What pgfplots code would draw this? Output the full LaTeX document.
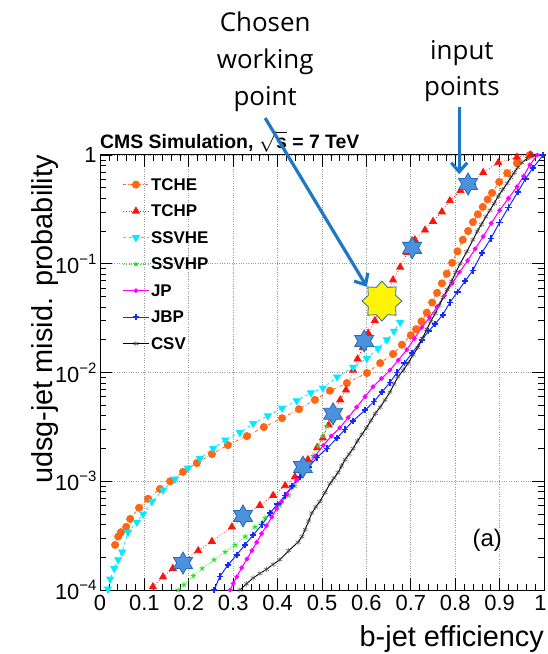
\documentclass[border=0pt]{standalone}
\usepackage{fontspec}
\setmainfont{Liberation Sans}
\newfontfamily\annfont{Open Sans}
\usepackage{pgfplots}
\pgfplotsset{compat=1.18}
\usetikzlibrary{arrows.meta}

\definecolor{cOrange}{RGB}{255,102,20}
\definecolor{cRed}{RGB}{255,20,10}
\definecolor{cCyan}{RGB}{0,235,255}
\definecolor{cGreen}{RGB}{30,230,30}
\definecolor{cMagenta}{RGB}{255,0,255}
\definecolor{cBlue}{RGB}{20,40,255}
\definecolor{arrowblue}{RGB}{30,120,195}
\definecolor{starfill}{RGB}{75,145,220}
\definecolor{starline}{RGB}{40,105,185}
\definecolor{staryellow}{RGB}{255,245,0}

\pgfdeclareplotmark{hexstar}{%
  \pgfpathmoveto{\pgfpointpolar{90}{\pgfplotmarksize}}%
  \pgfpathlineto{\pgfpointpolar{120}{0.577\pgfplotmarksize}}%
  \pgfpathlineto{\pgfpointpolar{150}{\pgfplotmarksize}}%
  \pgfpathlineto{\pgfpointpolar{180}{0.577\pgfplotmarksize}}%
  \pgfpathlineto{\pgfpointpolar{210}{\pgfplotmarksize}}%
  \pgfpathlineto{\pgfpointpolar{240}{0.577\pgfplotmarksize}}%
  \pgfpathlineto{\pgfpointpolar{270}{\pgfplotmarksize}}%
  \pgfpathlineto{\pgfpointpolar{300}{0.577\pgfplotmarksize}}%
  \pgfpathlineto{\pgfpointpolar{330}{\pgfplotmarksize}}%
  \pgfpathlineto{\pgfpointpolar{0}{0.577\pgfplotmarksize}}%
  \pgfpathlineto{\pgfpointpolar{30}{\pgfplotmarksize}}%
  \pgfpathlineto{\pgfpointpolar{60}{0.577\pgfplotmarksize}}%
  \pgfpathclose
  \pgfusepathqfillstroke
}
\pgfdeclareplotmark{octstar}{%
  \pgfpathmoveto{\pgfpointpolar{90}{\pgfplotmarksize}}%
  \pgfpathlineto{\pgfpointpolar{112.5}{0.74\pgfplotmarksize}}%
  \pgfpathlineto{\pgfpointpolar{135}{\pgfplotmarksize}}%
  \pgfpathlineto{\pgfpointpolar{157.5}{0.74\pgfplotmarksize}}%
  \pgfpathlineto{\pgfpointpolar{180}{\pgfplotmarksize}}%
  \pgfpathlineto{\pgfpointpolar{202.5}{0.74\pgfplotmarksize}}%
  \pgfpathlineto{\pgfpointpolar{225}{\pgfplotmarksize}}%
  \pgfpathlineto{\pgfpointpolar{247.5}{0.74\pgfplotmarksize}}%
  \pgfpathlineto{\pgfpointpolar{270}{\pgfplotmarksize}}%
  \pgfpathlineto{\pgfpointpolar{292.5}{0.74\pgfplotmarksize}}%
  \pgfpathlineto{\pgfpointpolar{315}{\pgfplotmarksize}}%
  \pgfpathlineto{\pgfpointpolar{337.5}{0.74\pgfplotmarksize}}%
  \pgfpathlineto{\pgfpointpolar{0}{\pgfplotmarksize}}%
  \pgfpathlineto{\pgfpointpolar{22.5}{0.74\pgfplotmarksize}}%
  \pgfpathlineto{\pgfpointpolar{45}{\pgfplotmarksize}}%
  \pgfpathlineto{\pgfpointpolar{67.5}{0.74\pgfplotmarksize}}%
  \pgfpathclose
  \pgfusepathqfillstroke
}

\newcommand{\tenp}[1]{10\raisebox{0.42em}{\fontsize{15}{15}\selectfont #1}}

\begin{document}
\begin{tikzpicture}[x=1bp,y=1bp]
\useasboundingbox (0,0) rectangle (548,654);
\begin{axis}[
  at={(100bp,64bp)}, anchor=south west,
  width=444bp, height=435bp, scale only axis,
  xmin=0, xmax=1, ymin=1e-4, ymax=1, ymode=log,
  clip=false,
  xtick={0,0.1,0.2,0.3,0.4,0.5,0.6,0.7,0.8,0.9,1},
  xticklabels={0,0.1,0.2,0.3,0.4,0.5,0.6,0.7,0.8,0.9,\makebox[5bp][r]{1}},
  minor x tick num=4,
  ytick={1e-4,1e-3,1e-2,1e-1,1},
  yticklabels={\tenp{−4},\tenp{−3},\tenp{−2},\tenp{−1},1},
  minor ytick={2e-4,3e-4,4e-4,5e-4,6e-4,7e-4,8e-4,9e-4,2e-3,3e-3,4e-3,5e-3,6e-3,7e-3,8e-3,9e-3,2e-2,3e-2,4e-2,5e-2,6e-2,7e-2,8e-2,9e-2,0.2,0.3,0.4,0.5,0.6,0.7,0.8,0.9},
  major tick length=12bp, minor tick length=6bp,
  every tick/.style={black, line width=0.7bp},
  axis line style={line width=1bp},
  grid=major, grid style={dotted, gray!80, line width=0.7bp},
  ticklabel style={font=\fontsize{22}{22}\selectfont},
  xticklabel style={yshift=-2bp},
  xlabel={b-jet efficiency},
  xlabel style={at={(axis description cs:1,-0.131)}, anchor=base east, inner sep=0pt, font=\fontsize{29}{29}\selectfont},
  ylabel={udsg-jet misid. probability},
  ylabel style={at={(axis description cs:-0.1059,1)}, anchor=base east, inner sep=0pt, font=\fontsize{29}{29}\selectfont},
  legend style={at={(axis description cs:0.05,0.949)}, anchor=north west, draw=none, fill=none, inner sep=0pt,
    font=\bfseries\fontsize{17}{17}\selectfont, row sep=12bp,
    nodes={inner sep=1.5bp, text height=11.5bp, text depth=0bp}},
  legend cell align=left,
  legend image code/.code={\draw[mark repeat=2,mark phase=2,#1] plot coordinates {(0bp,0bp) (13bp,0bp) (26bp,0bp)};},
]
% TCHE
\addplot[color=cOrange, dash dot, line width=0.8bp, mark=*, mark size=3.6bp, mark options={solid}] coordinates {
(0.034,2.6e-4) (0.041,3.1e-4) (0.047,3.4e-4) (0.059,3.8e-4) (0.068,4.5e-4) (0.088,5.7e-4) (0.108,6.9e-4)
(0.135,8.5e-4) (0.158,1.0e-3) (0.187,1.22e-3) (0.218,1.47e-3) (0.252,1.78e-3) (0.288,2.15e-3) (0.331,2.6e-3)
(0.369,3.15e-3) (0.410,3.8e-3) (0.448,4.6e-3) (0.484,5.6e-3) (0.518,6.8e-3) (0.556,8.0e-3) (0.601,9.9e-3)
(0.631,1.22e-2) (0.660,1.48e-2) (0.680,1.8e-2) (0.700,2.2e-2) (0.712,2.5e-2) (0.724,2.95e-2) (0.736,3.55e-2)
(0.748,4.4e-2) (0.759,5.4e-2) (0.770,6.6e-2) (0.781,8.1e-2) (0.793,0.102) (0.805,0.13) (0.817,0.166)
(0.829,0.2) (0.840,0.242) (0.851,0.285) (0.862,0.333) (0.873,0.39) (0.883,0.448) (0.899,0.565) (0.917,0.682)
(0.939,0.843) (0.968,1.0)};
\addlegendentry{TCHE}
% TCHP
\addplot[color=cRed, dotted, line width=0.8bp, mark=triangle*, mark size=4bp, mark options={solid}] coordinates {
(0.119,1.07e-4) (0.142,1.32e-4) (0.164,1.58e-4) (0.191,1.9e-4) (0.221,2.3e-4) (0.252,2.8e-4) (0.297,3.8e-4)
(0.327,4.9e-4) (0.360,6.0e-4) (0.390,7.4e-4) (0.417,9.1e-4) (0.439,1.1e-3) (0.455,1.3e-3) (0.468,1.58e-3)
(0.489,2.04e-3) (0.502,2.5e-3) (0.515,3.3e-3) (0.528,4.4e-3) (0.541,5.6e-3) (0.554,6.9e-3) (0.570,1.05e-2)
(0.580,1.33e-2) (0.592,1.7e-2) (0.604,2.3e-2) (0.619,3.0e-2) (0.633,4.0e-2) (0.647,5.4e-2) (0.660,7.1e-2)
(0.676,9.3e-2) (0.692,0.127) (0.709,0.166) (0.732,0.204) (0.750,0.245) (0.770,0.30) (0.788,0.38) (0.812,0.47)
(0.838,0.56) (0.863,0.69) (0.897,0.85) (0.939,0.955) (0.970,1.0)};
\addlegendentry{TCHP}
% SSVHE
\addplot[color=cCyan, dashed, line width=0.8bp, mark=triangle*, mark size=4bp, mark options={solid, rotate=180}] coordinates {
(0.018,1.02e-4) (0.023,1.26e-4) (0.032,1.58e-4) (0.041,1.9e-4) (0.050,2.24e-4) (0.063,3.4e-4) (0.083,4.2e-4)
(0.097,5.0e-4) (0.117,6.5e-4) (0.142,8.3e-4) (0.169,1.05e-3) (0.198,1.32e-3) (0.225,1.62e-3) (0.255,2.0e-3)
(0.282,2.4e-3) (0.315,2.8e-3) (0.345,3.4e-3) (0.378,4.0e-3) (0.410,4.7e-3) (0.443,5.5e-3) (0.475,6.5e-3)
(0.502,7.2e-3) (0.534,9.1e-3) (0.570,1.12e-2) (0.601,1.35e-2) (0.626,1.66e-2) (0.646,2.0e-2) (0.662,2.4e-2)
(0.676,2.9e-2)};
\addlegendentry{SSVHE}
% SSVHP
\addplot[color=cGreen, dotted, line width=0.8bp, mark=star, mark size=2.6bp, mark options={solid, line width=1bp}] coordinates {
(0.176,1.0e-4) (0.189,1.12e-4) (0.210,1.35e-4) (0.230,1.58e-4) (0.257,1.9e-4) (0.282,2.24e-4) (0.304,2.6e-4)
(0.327,3.1e-4) (0.349,3.8e-4) (0.372,4.6e-4) (0.405,6.0e-4) (0.425,7.4e-4) (0.439,9.1e-4) (0.455,1.15e-3)
(0.468,1.4e-3) (0.480,1.7e-3) (0.492,2.1e-3) (0.502,2.6e-3) (0.511,3.2e-3) (0.518,3.7e-3) (0.522,4.2e-3)};
\addlegendentry{SSVHP}
% JP
\addplot[color=cMagenta, solid, line width=1.1bp, mark=*, mark size=1.8bp] coordinates {
(0.293,1.0e-4) (0.300,1.15e-4) (0.308,1.32e-4) (0.319,1.6e-4) (0.331,1.93e-4) (0.342,2.3e-4) (0.353,2.75e-4)
(0.364,3.3e-4) (0.375,3.9e-4) (0.387,4.7e-4) (0.398,5.6e-4) (0.409,6.5e-4) (0.420,7.6e-4) (0.432,8.8e-4)
(0.443,1.02e-3) (0.455,1.18e-3) (0.466,1.35e-3) (0.484,1.7e-3) (0.503,2.14e-3) (0.521,2.6e-3) (0.540,3.1e-3)
(0.559,3.85e-3) (0.578,4.8e-3) (0.597,6.0e-3) (0.615,7.4e-3) (0.634,8.8e-3) (0.653,1.05e-2) (0.672,1.3e-2)
(0.691,1.62e-2) (0.708,2.05e-2) (0.725,2.6e-2) (0.742,3.2e-2) (0.759,4.0e-2) (0.776,5.1e-2) (0.793,6.6e-2)
(0.810,8.4e-2) (0.828,0.107) (0.845,0.137) (0.863,0.178) (0.881,0.235) (0.900,0.31) (0.920,0.40) (0.939,0.51)
(0.954,0.64) (0.968,0.81) (0.985,1.0)};
\addlegendentry{JP}
% JBP
\addplot[color=cBlue, solid, line width=1bp, mark=+, mark size=3.2bp, mark options={line width=1.6bp}] coordinates {
(0.257,1.0e-4) (0.270,1.33e-4) (0.288,1.7e-4) (0.308,2.1e-4) (0.326,2.6e-4) (0.345,3.2e-4) (0.365,4.0e-4)
(0.383,5.1e-4) (0.400,6.2e-4) (0.417,7.4e-4) (0.433,9.1e-4) (0.450,1.1e-3) (0.470,1.35e-3) (0.489,1.66e-3)
(0.511,2.0e-3) (0.534,2.5e-3) (0.552,3.0e-3) (0.570,3.6e-3) (0.597,4.5e-3) (0.617,5.4e-3) (0.635,6.6e-3)
(0.653,8.1e-3) (0.669,1.0e-2) (0.686,1.23e-2) (0.703,1.51e-2) (0.725,2.0e-2) (0.740,2.4e-2) (0.755,2.8e-2)
(0.772,3.4e-2) (0.788,4.4e-2) (0.805,5.5e-2) (0.822,6.9e-2) (0.840,8.7e-2) (0.860,0.126) (0.880,0.17)
(0.900,0.24) (0.920,0.33) (0.941,0.457) (0.958,0.6) (0.975,0.76) (0.998,1.0)};
\addlegendentry{JBP}
% CSV
\addplot[color=black, solid, line width=0.9bp, mark=asterisk, mark size=2.8bp, mark options={gray!60!black, line width=0.5bp}] coordinates {
(0.315,1.0e-4) (0.330,1.14e-4) (0.345,1.29e-4) (0.360,1.42e-4) (0.375,1.55e-4) (0.390,1.72e-4) (0.405,1.9e-4)
(0.425,2.3e-4) (0.446,2.75e-4) (0.455,3.1e-4) (0.462,3.6e-4) (0.470,4.3e-4) (0.477,5.1e-4) (0.486,5.8e-4)
(0.495,6.5e-4) (0.507,7.9e-4) (0.518,9.5e-4) (0.527,1.07e-3) (0.536,1.2e-3) (0.544,1.38e-3) (0.552,1.58e-3)
(0.561,1.78e-3) (0.570,2.0e-3) (0.580,2.35e-3) (0.590,2.7e-3) (0.600,3.1e-3) (0.610,3.6e-3) (0.620,4.2e-3)
(0.631,4.8e-3) (0.642,5.6e-3) (0.653,6.6e-3) (0.662,7.8e-3) (0.671,9.1e-3) (0.683,1.05e-2) (0.694,1.22e-2)
(0.705,1.45e-2) (0.716,1.7e-2) (0.726,2.05e-2) (0.736,2.5e-2) (0.745,2.95e-2) (0.755,3.5e-2) (0.764,4.15e-2)
(0.773,4.9e-2) (0.782,5.8e-2) (0.792,6.9e-2) (0.801,8.3e-2) (0.811,0.1) (0.826,0.129) (0.840,0.166)
(0.850,0.2) (0.859,0.23) (0.869,0.27) (0.878,0.31) (0.888,0.36) (0.897,0.42) (0.907,0.48) (0.917,0.55)
(0.925,0.62) (0.933,0.69) (0.941,0.77) (0.950,0.85) (0.962,0.93) (0.975,1.0)};
\addlegendentry{CSV}
% input points
\addplot[forget plot, only marks, mark=hexstar, mark size=11bp, mark options={fill=starfill, draw=starline, line width=0.8bp}] coordinates {
(0.187,1.77e-4) (0.322,4.8e-4) (0.457,1.35e-3) (0.525,4.17e-3) (0.595,1.95e-2) (0.703,0.14) (0.829,0.541)};
% chosen working point
\addplot[forget plot, only marks, mark=octstar, mark size=20bp, mark options={fill=staryellow, draw=starline, line width=0.8bp}] coordinates {
(0.635,0.0454)};
% annotations
\node[anchor=base west, inner sep=0pt, font=\bfseries\fontsize{19.5}{19.5}\selectfont] at (axis description cs:0,1.016) {CMS Simulation, $\sqrt{\mbox{s}}$ = 7 TeV};
\node[font=\fontsize{24}{24}\selectfont] at (axis description cs:0.872,0.115) {(a)};
\node[anchor=south, align=center, inner sep=0pt, font=\annfont\fontsize{26}{37}\selectfont] at (axis description cs:0.372,1.099) {Chosen\\working\\point};
\node[anchor=south, align=center, inner sep=0pt, font=\annfont\fontsize{26}{37}\selectfont] at (axis description cs:0.815,1.121) {input\\points};
\draw[arrowblue, line width=3.2bp, -{Straight Barb[length=9bp,width=16bp]}] (axis description cs:0.372,1.085) -- (axis description cs:0.601,0.697);
\draw[arrowblue, line width=3.2bp, -{Straight Barb[length=9bp,width=16bp]}] (axis description cs:0.809,1.110) -- (axis description cs:0.809,0.956);
\end{axis}
\end{tikzpicture}
\end{document}
